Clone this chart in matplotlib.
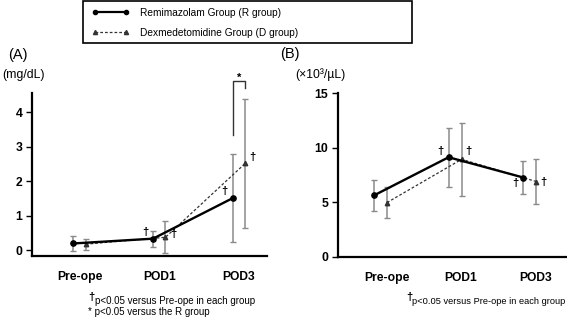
import numpy as np
import matplotlib
matplotlib.use('Agg')
import matplotlib.pyplot as plt
from matplotlib.lines import Line2D
from matplotlib.patches import Rectangle

plt.rcParams['font.family'] = ['Liberation Sans', 'DejaVu Sans']

# data
cats = ['Pre-ope', 'POD1', 'POD3']
crp_r = [0.19, 0.33, 1.51]
crp_r_sd = [0.22, 0.23, 1.27]
crp_d = [0.17, 0.37, 2.52]
crp_d_sd = [0.16, 0.47, 1.88]
wbc_r = [5.63, 9.13, 7.27]
wbc_r_sd = [1.43, 2.70, 1.55]
wbc_d = [4.97, 8.94, 6.90]
wbc_d_sd = [1.42, 3.33, 2.10]

W, H = 567, 318
fig = plt.figure(figsize=(W / 100, H / 100), dpi=100)


def px(x, y):
  return x / W, 1 - y / H


def panel(rect, r, r_sd, d, d_sd, off, ylim, xlim, yticks, lab_shift, daggers):
  ax = fig.add_axes(rect)
  x = np.arange(len(cats))
  xr, xd = x - off, x + off
  ax.errorbar(xr, r, yerr=r_sd, fmt='none', ecolor='#8a8a8a', elinewidth=1.1,
              capsize=2.2, capthick=1.0, zorder=1)
  ax.errorbar(xd, d, yerr=d_sd, fmt='none', ecolor='#8a8a8a', elinewidth=1.1,
              capsize=2.2, capthick=1.0, zorder=1)
  ax.plot(xd, d, ls=(0, (2.2, 1.6)), color='#333333', lw=0.9, marker='^', ms=3.2,
          zorder=2)
  ax.plot(xr, r, color='black', lw=1.7, marker='o', ms=3.8, zorder=3)
  ax.set_xlim(*xlim)
  ax.set_ylim(*ylim)
  ax.set_yticks(yticks)
  ax.set_xticks(x + lab_shift)
  ax.set_xticklabels(cats)
  for s in ['top', 'right']:
    ax.spines[s].set_visible(False)
  for s in ['left', 'bottom']:
    ax.spines[s].set_linewidth(1.6)
  ax.tick_params(axis='x', length=0, pad=11, labelsize=8.7)
  ax.tick_params(axis='y', length=4, width=1, pad=3, labelsize=8.8)
  for lab in ax.get_xticklabels() + ax.get_yticklabels():
    lab.set_fontweight('bold')
  for grp, i, dx, dy in daggers:
    xx = xr[i] if grp == 'R' else xd[i]
    yy = r[i] if grp == 'R' else d[i]
    ax.annotate('\u2020', (xx, yy), xytext=(dx, dy), textcoords='offset pixels',
                ha='center', va='center', fontsize=8, fontweight='bold')
  return ax, xr, xd


axA, xr, xd = panel([32 / W, 62 / H, 235 / W, 163 / H], crp_r, crp_r_sd, crp_d,
                    crp_d_sd, 0.078, (-0.174, 4.564), (-0.595, 2.35),
                    [0, 1, 2, 3, 4], 0.0,
                    [('R', 1, -8, 7), ('D', 1, 8, 3), ('R', 2, -8, 7), ('D', 2, 7, 6)])

# significance bracket at POD3
axA.plot([xr[2], xr[2], xd[2], xd[2]], [3.34, 4.92, 4.92, 4.70], color='#333333',
         lw=1.0, clip_on=False)
axA.text(2.0, 5.0, '*', ha='center', va='center', fontsize=8, fontweight='bold')

axB, _, _ = panel([338 / W, 61.3 / H, 229 / W, 163.4 / H], wbc_r, wbc_r_sd, wbc_d,
                  wbc_d_sd, 0.087, (0, 15), (-0.57, 2.50), [0, 5, 10, 15], 0.08,
                  [('R', 1, -8, 6), ('D', 1, 7, 8), ('R', 2, -8, -5), ('D', 2, 7, 0)])

# panel labels and units
fig.text(*px(8, 55), '(A)', fontsize=10.5, va='center', ha='left')
fig.text(*px(2, 75), '(mg/dL)', fontsize=8.8, va='center', ha='left')
fig.text(*px(280, 54), '(B)', fontsize=10.5, va='center', ha='left')
fig.text(*px(295, 75), '(\u00d710\u00b3/\u00b5L)', fontsize=8.8, va='center', ha='left')

# footnotes
fig.text(*px(88, 297), '\u2020', fontsize=8, fontweight='bold', va='center', ha='left')
fig.text(*px(95, 301), 'p<0.05 versus Pre-ope in each group', fontsize=7.0,
         va='center', ha='left')
fig.text(*px(88, 312), '* p<0.05 versus the R group', fontsize=7.0,
         va='center', ha='left')
fig.text(*px(406, 297), '\u2020', fontsize=8, fontweight='bold', va='center', ha='left')
fig.text(*px(565, 301), 'p<0.05 versus Pre-ope in each group', fontsize=6.7,
         va='center', ha='right')

# legend
handles = [Line2D([], [], color='black', lw=1.6, marker='o', ms=3),
           Line2D([], [], color='#333333', lw=0.9, ls=(0, (2.2, 1.6)), marker='^', ms=3)]
labels = ['Remimazolam Group (R group)', 'Dexmedetomidine Group (D group)']
fig.legend(handles, labels, loc='upper left', bbox_to_anchor=px(92, 8),
           frameon=False, numpoints=2, handlelength=3.7, handletextpad=1.0,
           fontsize=7.3, borderpad=0, borderaxespad=0, labelspacing=0.95)
fig.patches.append(Rectangle(px(83, 43), 329 / W, 42 / H, transform=fig.transFigure,
                             fill=False, lw=1.2, ec='black'))

plt.savefig('out.png', dpi=100)
